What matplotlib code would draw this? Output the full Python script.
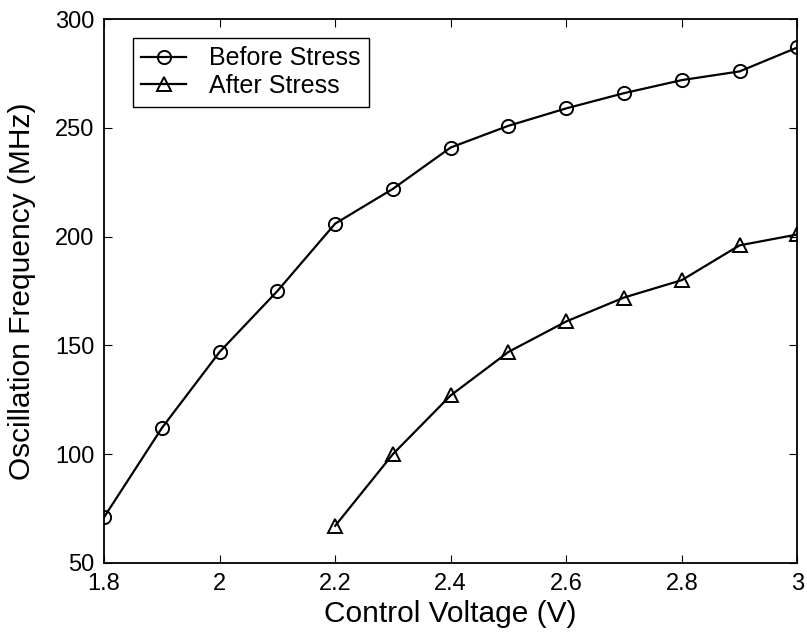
import matplotlib.pyplot as plt

plt.rcParams['font.family'] = ['Liberation Sans', 'DejaVu Sans']

# Data
voltage_before = [1.8, 1.9, 2.0, 2.1, 2.2, 2.3, 2.4, 2.5, 2.6, 2.7, 2.8, 2.9, 3.0]
freq_before = [71, 112, 147, 175, 206, 222, 241, 251, 259, 266, 272, 276, 287]
voltage_after = [2.2, 2.3, 2.4, 2.5, 2.6, 2.7, 2.8, 2.9, 3.0]
freq_after = [67, 100, 127, 147, 161, 172, 180, 196, 201]

xticks = [1.8, 2.0, 2.2, 2.4, 2.6, 2.8, 3.0]
xtick_labels = ['1.8', '2', '2.2', '2.4', '2.6', '2.8', '3']
yticks = [50, 100, 150, 200, 250, 300]

fig = plt.figure(figsize=(8.07, 6.41), dpi=100)
ax = fig.add_axes([0.129, 0.122, 0.859, 0.848])

ax.plot(voltage_before, freq_before, color='black', lw=1.6, marker='o',
        markersize=9.5, markerfacecolor='none', markeredgewidth=1.4, label='Before Stress')
ax.plot(voltage_after, freq_after, color='black', lw=1.6, marker='^',
        markersize=9.5, markerfacecolor='none', markeredgewidth=1.4, label='After Stress')

ax.set_xlim(1.8, 3.0)
ax.set_ylim(50, 300)
ax.set_xticks(xticks)
ax.set_xticklabels(xtick_labels)
ax.set_yticks(yticks)
ax.tick_params(direction='in', top=True, right=True, labelsize=17, length=6)
ax.tick_params(axis='x', pad=7)
ax.tick_params(axis='y', pad=7)
for s in ax.spines.values():
    s.set_linewidth(1.3)

ax.set_xlabel('Control Voltage (V)', fontsize=21.5, labelpad=4)
ax.set_ylabel('Oscillation Frequency (MHz)', fontsize=21.5, labelpad=14)

leg = ax.legend(loc='upper left', bbox_to_anchor=(0.041, 0.966), fontsize=18,
                fancybox=False, edgecolor='black', framealpha=1,
                handlelength=1.8, handletextpad=0.9, borderpad=0.35,
                labelspacing=0.15, borderaxespad=0)
leg.get_frame().set_linewidth(1.0)

fig.savefig('out.png', dpi=100)
